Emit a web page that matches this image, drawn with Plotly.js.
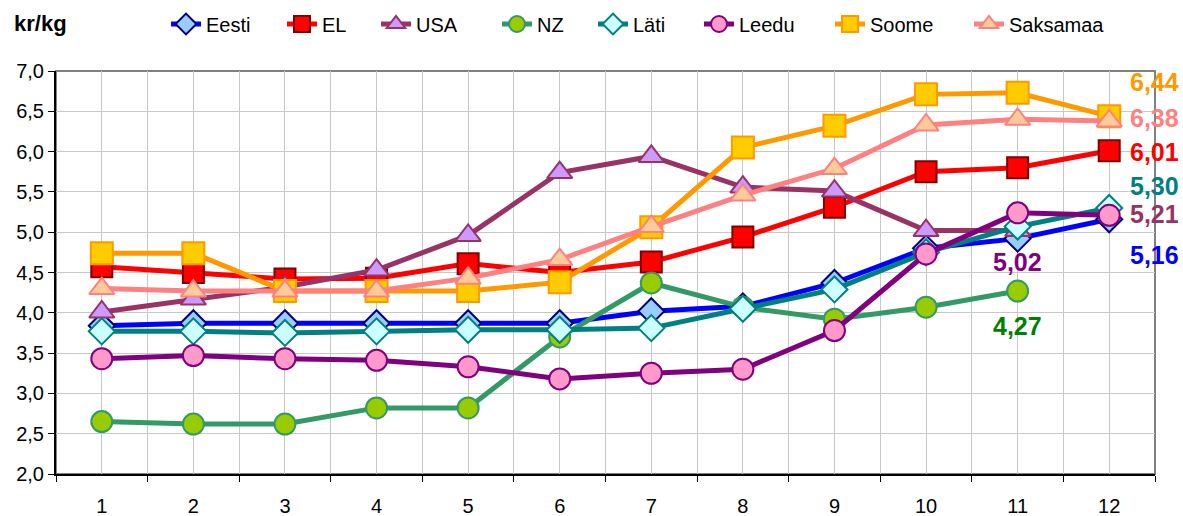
<!DOCTYPE html>
<html>
<head>
<meta charset="utf-8">
<script src="https://cdn.plot.ly/plotly-3.0.1.min.js"></script>
<style>
  html, body { margin: 0; padding: 0; background: #fff; }
  #chart { width: 1183px; height: 516px; }
</style>
</head>
<body>
<div id="chart"></div>
<script>
const months = [1, 2, 3, 4, 5, 6, 7, 8, 9, 10, 11, 12];

const eesti    = [3.84, 3.87, 3.87, 3.87, 3.87, 3.87, 4.02, 4.08, 4.37, 4.80, 4.92, 5.16];
const el       = [4.57, 4.50, 4.42, 4.43, 4.61, 4.50, 4.63, 4.94, 5.31, 5.75, 5.80, 6.01];
const usa      = [4.01, 4.17, 4.32, 4.53, 4.96, 5.74, 5.94, 5.56, 5.51, 5.02, 5.02, null];
const nz       = [2.65, 2.62, 2.62, 2.82, 2.82, 3.70, 4.37, 4.07, 3.92, 4.07, 4.27, null];
const lati     = [3.77, 3.77, 3.75, 3.77, 3.79, 3.79, 3.81, 4.05, 4.29, 4.75, 5.07, 5.30];
const leedu    = [3.43, 3.47, 3.43, 3.41, 3.33, 3.18, 3.25, 3.30, 3.78, 4.73, 5.24, 5.21];
const soome    = [4.74, 4.74, 4.27, 4.27, 4.27, 4.38, 5.06, 6.05, 6.32, 6.71, 6.73, 6.44];
const saksamaa = [4.30, 4.27, 4.27, 4.27, 4.43, 4.66, 5.07, 5.46, 5.79, 6.33, 6.40, 6.38];

// end-of-year labels: text, x, y, colour, anchor
const endLabels = [
  ["6,44", 12.2, 6.86, "#FF9900", "left"],
  ["6,38", 12.2, 6.42, "#FF8080", "left"],
  ["6,01", 12.2, 6.00, "#FF0000", "left"],
  ["5,30", 12.2, 5.57, "#008080", "left"],
  ["5,21", 12.2, 5.23, "#993366", "left"],
  ["5,16", 12.2, 4.72, "#0000FF", "left"],
  ["5,02", 11, 4.63, "#800080", "center"],
  ["4,27", 11, 3.84, "#008000", "center"]
];

// legend entry left edges (px) so the row spreads like the original
const legendX = [166, 282, 376, 497, 593, 699, 830, 969];

function series(name, y, lineColor, symbol, fill, edge, size) {
  return {
    x: months, y: y, name: name,
    type: "scatter", mode: "lines+markers",
    line: { color: lineColor, width: 5 },
    marker: { symbol: symbol, size: size, color: fill, line: { color: edge, width: 2 } }
  };
}

const traces = [
  series("Eesti", eesti, "#0000FF", "diamond", "#99CCFF", "#000080", 20),
  series("EL", el, "#FF0000", "square", "#FF0000", "#800000", 21),
  series("USA", usa, "#993366", "triangle-up", "#CC99FF", "#993366", 22),
  series("NZ", nz, "#339966", "circle", "#99CC00", "#339966", 21),
  series("Läti", lati, "#008080", "diamond", "#CCFFFF", "#008080", 20),
  series("Leedu", leedu, "#800080", "circle", "#FF99CC", "#800080", 21),
  series("Soome", soome, "#FF9900", "square", "#FFCC00", "#FF9900", 22),
  series("Saksamaa", saksamaa, "#FF8080", "triangle-up", "#FFCC99", "#FF8080", 22)
];

const annotations = endLabels.map(l => ({
  text: l[0], x: l[1], y: l[2], xref: "x", yref: "y",
  xanchor: l[4], yanchor: "middle", showarrow: false,
  font: { family: "Liberation Sans, Arial", size: 25, color: l[3], weight: "bold" }
}));
annotations.push({
  text: "<b>kr/kg</b>", xref: "paper", yref: "paper", x: -0.04, y: 1.117,
  xanchor: "left", yanchor: "middle", showarrow: false,
  font: { family: "Liberation Sans, Arial", size: 22, color: "#000" }
});

const layout = {
  width: 1183, height: 516,
  margin: { l: 56, r: 28, t: 71, b: 42, autoexpand: false },
  separators: ",.",
  font: { family: "Liberation Sans, Arial", size: 20, color: "#000" },
  paper_bgcolor: "#fff", plot_bgcolor: "#fff",
  showlegend: true,
  xaxis: {
    range: [0.5, 12.5], tickvals: months, ticks: "", ticklabelstandoff: 13,
    showgrid: true, gridcolor: "#C8C8C8", gridwidth: 1,
    showline: true, linecolor: "#000", linewidth: 2, zeroline: false, fixedrange: true,
    minor: { tick0: 0.5, dtick: 1, showgrid: true, gridcolor: "#C8C8C8", ticks: "outside", ticklen: 6, tickcolor: "#000" }
  },
  yaxis: {
    range: [2, 7], dtick: 0.5, tickformat: ".1f", ticks: "outside", ticklen: 6,
    tickcolor: "#000", showgrid: true, gridcolor: "#C8C8C8", showline: true,
    linecolor: "#000", linewidth: 2, zeroline: false, fixedrange: true
  },
  shapes: [{
    type: "rect", xref: "paper", yref: "paper", x0: 0, x1: 1, y0: 0, y1: 1,
    line: { color: "#808080", width: 2 }, layer: "below"
  }],
  annotations: annotations
};

// one small legend per series, placed along the top row
traces.forEach((t, i) => {
  const key = i === 0 ? "legend" : "legend" + (i + 1);
  t.legend = key;
  layout[key] = {
    xref: "container", yref: "container",
    x: legendX[i] / 1183, y: 1 - 24 / 516, xanchor: "left", yanchor: "middle",
    font: { size: 20 }, bgcolor: "rgba(0,0,0,0)", borderwidth: 0
  };
});

Plotly.newPlot("chart", traces, layout, { displayModeBar: false, staticPlot: true });
</script>
</body>
</html>
